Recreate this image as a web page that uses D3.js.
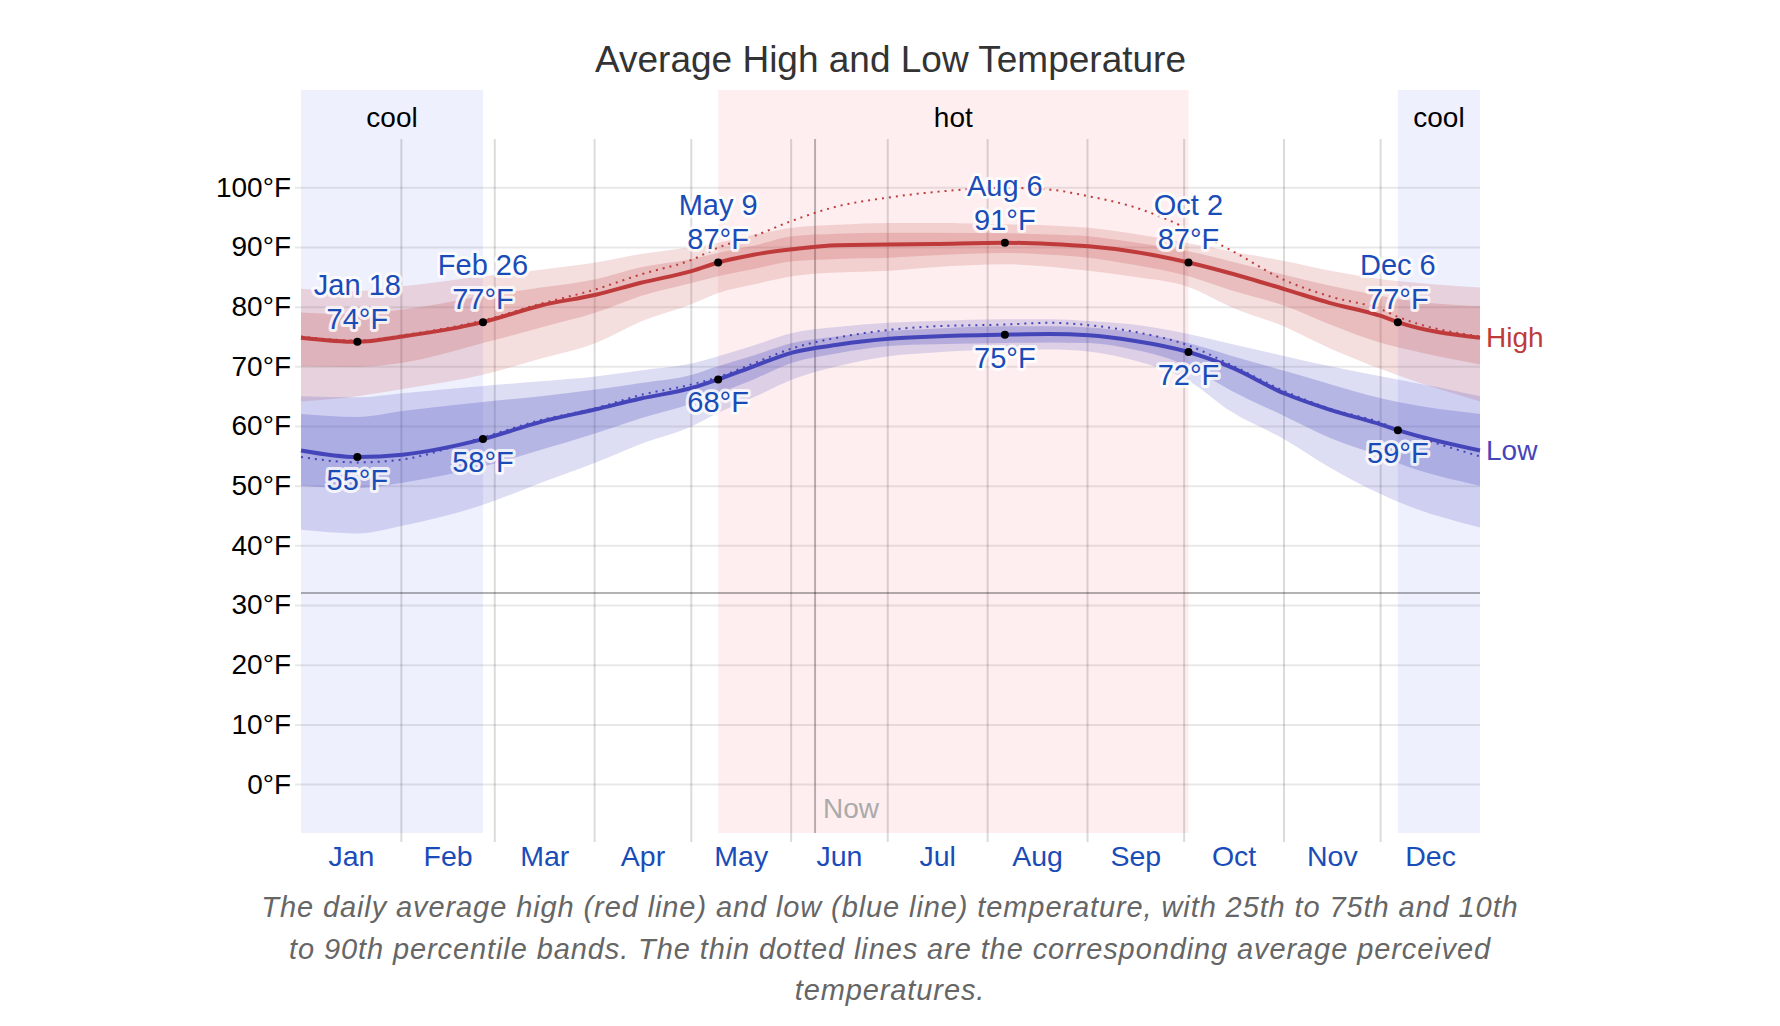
<!DOCTYPE html>
<html><head><meta charset="utf-8">
<script src="https://cdn.jsdelivr.net/npm/d3@7"></script>
<style>
html,body{margin:0;padding:0;background:#fff;}
svg{display:block;font-family:"Liberation Sans",Arial,Helvetica,sans-serif;}
</style></head><body>
<svg id="chart" width="1780" height="1026"></svg>
<script>
// ---------- data ----------
const sampleDates = ["2024-01-01T00:00Z","2024-01-18T12:00Z","2024-02-01T12:00Z","2024-02-26T12:00Z","2024-03-15T12:00Z",
  "2024-04-01T12:00Z","2024-04-15T12:00Z","2024-05-01T12:00Z","2024-05-09T12:00Z","2024-05-20T12:00Z",
  "2024-06-01T12:00Z","2024-06-15T12:00Z","2024-07-01T12:00Z","2024-07-15T12:00Z","2024-08-06T12:00Z",
  "2024-08-20T12:00Z","2024-09-01T12:00Z","2024-09-15T12:00Z","2024-10-02T12:00Z","2024-10-15T12:00Z",
  "2024-11-01T12:00Z","2024-11-15T12:00Z","2024-12-01T12:00Z","2024-12-06T12:00Z","2025-01-01T00:00Z"];
const highAvg  = [74.8,74.1,75.0,77.4,80.2,82.0,84.0,86.0,87.4,88.7,89.6,90.3,90.4,90.5,90.7,90.5,90.1,89.2,87.4,85.6,82.9,80.6,78.4,77.4,74.8];
const lowAvg   = [55.9,54.8,55.2,57.8,60.7,62.8,64.6,66.4,67.8,70.0,72.3,73.6,74.6,75.0,75.3,75.4,75.2,74.3,72.4,69.9,65.4,62.7,60.2,59.3,55.9];
const highFeel = [75.0,74.3,75.2,77.7,80.5,82.9,85.4,87.9,89.9,91.8,94.4,96.8,98.3,99.2,99.9,99.6,98.5,96.7,93.0,89.5,84.4,81.7,79.5,78.3,75.0];
const lowFeel  = [54.8,53.9,54.4,58.1,61.0,63.0,65.2,67.0,68.2,70.5,73.0,74.8,76.1,76.7,77.0,77.3,76.9,75.8,73.5,70.3,65.8,62.9,60.5,59.4,54.9];
const highP90  = [83.0,82.6,83.4,85.1,86.2,87.4,88.8,90.0,90.7,92.0,93.2,93.7,94.0,94.0,93.8,93.6,93.2,92.2,90.6,89.3,87.6,86.0,84.6,84.3,83.2];
const highP75  = [79.0,78.7,79.5,81.8,83.2,84.6,86.6,88.0,89.0,90.2,91.8,92.2,92.4,92.4,92.3,92.1,91.8,90.8,89.3,87.6,85.3,83.5,81.8,81.3,80.1];
const highP25  = [70.0,69.9,70.6,73.9,76.5,79.0,81.8,84.0,85.1,86.3,87.6,88.0,88.2,88.6,89.0,88.7,88.2,87.0,85.1,82.8,80.1,77.0,73.9,73.2,70.3];
const highP10  = [64.1,65.0,66.2,68.6,71.3,73.9,77.5,80.5,82.3,83.7,85.1,85.7,86.0,86.6,87.1,86.7,86.0,85.0,83.3,80.0,76.6,73.0,69.5,68.5,64.1];
const lowP90   = [65.0,64.8,65.5,66.7,67.5,68.3,69.3,70.5,71.7,73.5,75.6,76.6,77.3,77.6,77.9,77.9,77.6,77.0,75.4,73.8,71.7,70.0,68.3,67.8,65.0];
const lowP75   = [62.0,61.5,62.5,64.0,65.0,66.1,67.2,68.6,70.0,71.8,73.9,75.0,75.9,76.3,76.7,76.7,76.5,75.7,73.9,71.8,69.2,67.0,64.6,64.0,62.0];
const lowP25   = [50.0,49.6,50.5,53.2,56.0,58.8,61.3,63.8,65.5,67.8,70.6,72.2,73.4,73.7,73.9,74.0,73.9,72.8,70.0,66.0,61.6,58.0,54.9,53.8,50.0];
const lowP10   = [42.6,42.0,43.3,46.8,50.5,53.9,57.0,60.0,62.2,64.8,67.8,70.0,71.7,72.3,72.8,72.8,72.5,71.0,67.6,62.5,57.7,53.0,48.5,47.3,43.0];
const annotIdx = [1,3,8,14,18,23];   // Jan 18, Feb 26, May 9, Aug 6, Oct 2, Dec 6
const yTicks = [0,10,20,30,40,50,60,70,80,90,100];
const seasonNames  = ["cool","hot","cool"];
const seasonStarts = ["2024-01-01T00:00Z","2024-05-09T12:00Z","2024-12-06T12:00Z"];
const seasonEnds   = ["2024-02-26T12:00Z","2024-10-02T12:00Z","2025-01-01T00:00Z"];
const nowDate = "2024-06-08T14:00Z";
const freezing = 32;
const titleText = "Average High and Low Temperature";
const captionLines = ["The daily average high (red line) and low (blue line) temperature, with 25th to 75th and 10th",
  "to 90th percentile bands. The thin dotted lines are the corresponding average perceived",
  "temperatures."];

// ---------- setup ----------
const parse = d3.utcParse("%Y-%m-%dT%H:%MZ");
const dates = sampleDates.map(parse);
const x = d3.scaleUtc().domain([parse("2024-01-01T00:00Z"), parse("2025-01-01T00:00Z")]).range([301, 1480]);
const y = d3.scaleLinear().domain([-8.2, 116.3]).range([833, 90]);
const svg = d3.select("#chart");
const highC = "#bf3b3b", lowC = "#4545ba", blueText = "#1a4cb8";
const plotTop = y(116.3), plotBot = y(-8.2), gridTop = 139;

svg.append("rect").attr("width",1780).attr("height",1026).attr("fill","#fff");

// seasons
const seasons = svg.append("g");
seasonNames.forEach((n,i) => {
  const x0 = x(parse(seasonStarts[i])), x1 = x(parse(seasonEnds[i]));
  seasons.append("rect").attr("x",x0).attr("y",plotTop).attr("width",x1-x0).attr("height",plotBot-plotTop)
    .attr("fill", n==="hot" ? "#feeeef" : "#eef0fd");
  seasons.append("text").attr("x",(x0+x1)/2).attr("y",127).attr("text-anchor","middle")
    .attr("font-size",28).attr("fill","#000").text(n);
});

// y grid + labels
const yAxis = svg.append("g").attr("transform","translate(295,0)")
  .call(d3.axisLeft(y).tickValues(yTicks).tickFormat(d => d + "°F").tickSizeInner(-1185).tickSizeOuter(0).tickPadding(4));
yAxis.select(".domain").remove();
yAxis.selectAll("line").attr("stroke","rgba(0,0,0,0.09)").attr("stroke-width",2);
yAxis.selectAll("text").attr("font-size",28).attr("fill","#000").attr("font-family",null);

// month grid lines
const monthStarts = d3.utcMonths(parse("2024-02-01T00:00Z"), parse("2025-01-01T00:00Z"));
const xGrid = svg.append("g").attr("transform","translate(0,842)")
  .call(d3.axisBottom(x).tickValues(monthStarts).tickSizeInner(-(842-gridTop)).tickSizeOuter(0).tickFormat(""));
xGrid.select(".domain").remove();
xGrid.selectAll("line").attr("stroke","rgba(0,0,0,0.14)").attr("stroke-width",2);

// month labels
const monthMids = d3.utcMonths(parse("2024-01-01T00:00Z"), parse("2025-01-01T00:00Z"))
  .map(d => new Date((+d + +d3.utcMonth.offset(d,1)) / 2));
const xLab = svg.append("g").attr("transform","translate(0,866)")
  .call(d3.axisBottom(x).tickValues(monthMids).tickSize(0).tickPadding(0).tickFormat(d3.utcFormat("%b")));
xLab.select(".domain").remove();
xLab.selectAll("text").attr("y",0).attr("dy",null).attr("font-size",28.5).attr("fill",blueText).attr("font-family",null);

// freezing line
svg.append("line").attr("x1",x.range()[0]).attr("x2",x.range()[1]).attr("y1",y(freezing)).attr("y2",y(freezing))
  .attr("stroke","rgba(0,0,0,0.3)").attr("stroke-width",2);

// now line
const nx = x(parse(nowDate));
svg.append("line").attr("x1",nx).attr("x2",nx).attr("y1",gridTop).attr("y2",plotBot)
  .attr("stroke","rgba(0,0,0,0.28)").attr("stroke-width",2);
svg.append("text").attr("x",nx+8).attr("y",818).attr("font-size",28).attr("fill","#aaa").text("Now");

// bands
const curve = d3.curveMonotoneX;
function band(lo, hi, color, op) {
  svg.append("path").datum(dates.map((d,i)=>[d,lo[i],hi[i]]))
    .attr("d", d3.area().curve(curve).x(d=>x(d[0])).y0(d=>y(d[1])).y1(d=>y(d[2])))
    .attr("fill", color).attr("fill-opacity", op);
}
band(highP10, highP90, highC, 0.17);
band(highP25, highP75, highC, 0.2);
band(lowP10, lowP90, lowC, 0.18);
band(lowP25, lowP75, lowC, 0.25);

function line(vals, color, w, dash) {
  const p = svg.append("path").datum(dates.map((d,i)=>[d,vals[i]]))
    .attr("d", d3.line().curve(curve).x(d=>x(d[0])).y(d=>y(d[1])))
    .attr("fill","none").attr("stroke",color).attr("stroke-width",w);
  if (dash) p.attr("stroke-dasharray",dash);
}
line(highFeel, highC, 2, "2,5");
line(lowFeel, lowC, 2, "2,5");
line(highAvg, highC, 4);
line(lowAvg, lowC, 4);

// annotations
const fmtDate = d3.utcFormat("%b %-d");
const ann = svg.append("g").attr("font-size",29).attr("fill",blueText).attr("text-anchor","middle")
  .attr("stroke","rgba(255,255,255,0.8)").attr("stroke-width",6).attr("stroke-linejoin","round").attr("paint-order","stroke");
annotIdx.forEach(i => {
  const cx = x(dates[i]), hy = y(highAvg[i]), ly = y(lowAvg[i]);
  ann.append("text").attr("x",cx).attr("y",hy-47).text(fmtDate(dates[i]));
  ann.append("text").attr("x",cx).attr("y",hy-13).text(Math.round(highAvg[i]) + "°F");
  ann.append("text").attr("x",cx).attr("y",ly+33).text(Math.round(lowAvg[i]) + "°F");
});
annotIdx.forEach(i => {
  const cx = x(dates[i]);
  svg.append("circle").attr("cx",cx).attr("cy",y(highAvg[i])).attr("r",4).attr("fill","#000");
  svg.append("circle").attr("cx",cx).attr("cy",y(lowAvg[i])).attr("r",4).attr("fill","#000");
});

// series labels
const last = dates.length - 1;
svg.append("text").attr("x",x.range()[1]+6).attr("y",y(highAvg[last])).attr("dy","0.35em")
  .attr("font-size",28).attr("fill",highC).text("High");
svg.append("text").attr("x",x.range()[1]+6).attr("y",y(lowAvg[last])).attr("dy","0.35em")
  .attr("font-size",28).attr("fill",lowC).text("Low");

// title
svg.append("text").attr("x",(x.range()[0]+x.range()[1])/2).attr("y",72).attr("text-anchor","middle")
  .attr("font-size",37).attr("fill","#333").text(titleText);

// caption
captionLines.forEach((t,i) => {
  svg.append("text").attr("x",890).attr("y",917 + i*41.5).attr("text-anchor","middle")
    .attr("font-size",29).attr("letter-spacing",0.9).attr("font-style","italic").attr("fill","#666").text(t);
});
</script>
</body></html>
